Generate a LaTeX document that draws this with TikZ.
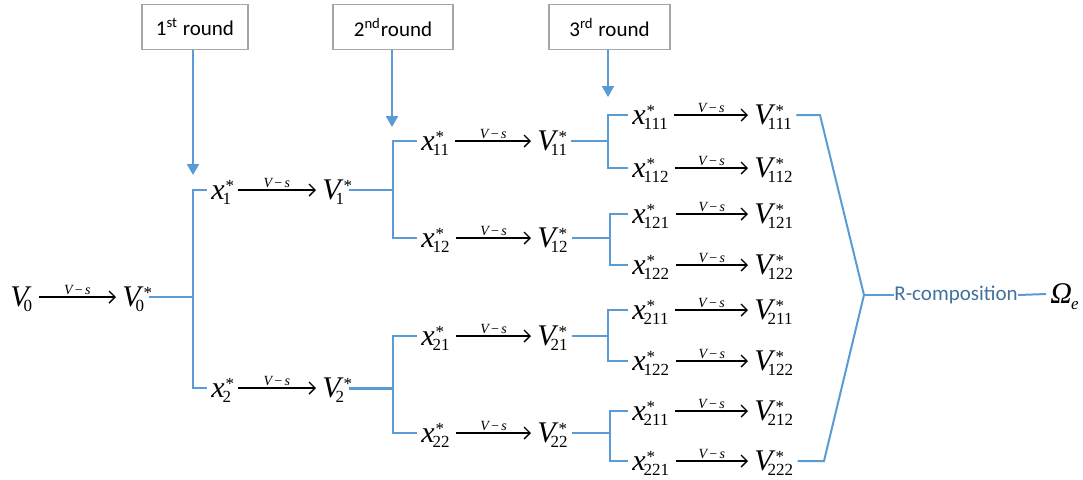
\documentclass[tikz,border=0pt]{standalone}
\usepackage{fontspec}
\newfontfamily\calibri{Carlito}
\newfontfamily\tms{Liberation Serif}
\usetikzlibrary{arrows.meta}
\definecolor{lblue}{RGB}{91,155,213}
\definecolor{tblue}{RGB}{65,113,156}
\definecolor{bgray}{RGB}{166,166,166}
\def\ry{4.5pt}
\newcommand\sy[4]{{\itshape #1}\rlap{\kern#4\raisebox{4pt}{\fontsize{8.5}{9}\selectfont *}}\kern#3\raisebox{-2.5pt}{\fontsize{8.5}{9}\selectfont #2}}
\newcommand\Vs[1]{\sy{V}{#1}{-2.5pt}{1.5pt}}
\newcommand\xs[1]{\sy{x}{#1}{-1pt}{0.5pt}}
\newcommand\vsl{{\itshape V}\,−\,{\itshape s}}
\tikzset{
  m/.style={font=\tms\fontsize{15}{17}\selectfont, inner xsep=2pt, inner ysep=0pt, anchor=base west},
  lab/.style={font=\tms\fontsize{7}{8}\selectfont, above=0.8pt, inner sep=0pt},
  arr/.style={line width=0.7pt, shorten <=1pt, shorten >=1pt, -{Straight Barb[length=3pt,width=6pt]}},
  br/.style={draw=lblue, line width=1pt},
  rbox/.style={draw=bgray, line width=0.7pt, font=\calibri\fontsize{10.5}{12}\selectfont, minimum height=22.5pt, inner sep=0pt},
  rar/.style={draw=lblue, line width=1pt, -{Triangle[length=5.5pt,width=6pt]}},
}
\begin{document}
\begin{tikzpicture}[x=0.5pt,y=-0.5pt]
\useasboundingbox (0,0) rectangle (1083,479);
% round boxes
\node[rbox, minimum width=53pt] (r1) at (195,27) {1\textsuperscript{st} round};
\node[rbox, minimum width=60pt] (r2) at (393,27) {2\textsuperscript{nd}round};
\node[rbox, minimum width=60.5pt] (r3) at (609.5,27) {3\textsuperscript{rd} round};
\coordinate (a1) at (193,175);
\coordinate (a2) at (392,127);
\coordinate (a3) at (608,97);
\draw[rar] (r1.south -| a1) -- (a1);
\draw[rar] (r2.south -| a2) -- (a2);
\draw[rar] (r3.south -| a3) -- (a3);
% level 0
\node[m] (V0) at (6,306) {{\itshape V}\kern-2.5pt\raisebox{-2.5pt}{\fontsize{8.5}{9}\selectfont 0}};
\node[m] (V0s) at (118,306) {\Vs{0}};
\draw[arr] ([yshift=\ry]V0.base east) -- node[lab]{\vsl} ([yshift=\ry]V0s.base west);
% level 1
\node[m] (x1) at (207,199) {\xs{1}};
\node[m] (V1) at (318,199) {\Vs{1}};
\node[m] (x2) at (207,397) {\xs{2}};
\node[m] (V2) at (318,397) {\Vs{2}};
\draw[arr] ([yshift=\ry]x1.base east) -- node[lab]{\vsl} ([yshift=\ry]V1.base west);
\draw[arr] ([yshift=\ry]x2.base east) -- node[lab]{\vsl} ([yshift=\ry]V2.base west);
% level 2
\node[m] (x11) at (417,150) {\xs{11}};
\node[m] (V11) at (533,150) {\Vs{11}};
\node[m] (x12) at (417,247) {\xs{12}};
\node[m] (V12) at (533,247) {\Vs{12}};
\node[m] (x21) at (417,345) {\xs{21}};
\node[m] (V21) at (533,345) {\Vs{21}};
\node[m] (x22) at (417,442) {\xs{22}};
\node[m] (V22) at (533,442) {\Vs{22}};
\foreach \a/\b in {x11/V11,x12/V12,x21/V21,x22/V22}
  \draw[arr] ([yshift=\ry]\a.base east) -- node[lab]{\vsl} ([yshift=\ry]\b.base west);
% level 3
\node[m] (x111) at (628,124) {\xs{111}};
\node[m] (V111) at (750,124) {\Vs{111}};
\node[m] (x112) at (628,177) {\xs{112}};
\node[m] (V112) at (750,177) {\Vs{112}};
\node[m] (x121) at (628,223) {\xs{121}};
\node[m] (V121) at (750,223) {\Vs{121}};
\node[m] (x122) at (628,274) {\xs{122}};
\node[m] (V122) at (750,274) {\Vs{122}};
\node[m] (x211) at (628,319) {\xs{211}};
\node[m] (V211) at (750,319) {\Vs{211}};
\node[m] (x122b) at (628,370) {\xs{122}};
\node[m] (V122b) at (750,370) {\Vs{122}};
\node[m] (x211b) at (628,420) {\xs{211}};
\node[m] (V212) at (750,420) {\Vs{212}};
\node[m] (x221) at (628,470) {\xs{221}};
\node[m] (V222) at (750,470) {\Vs{222}};
\foreach \a/\b in {x111/V111,x112/V112,x121/V121,x122/V122,x211/V211,x122b/V122b,x211b/V212,x221/V222}
  \draw[arr] ([yshift=\ry]\a.base east) -- node[lab]{\vsl} ([yshift=\ry]\b.base west);
% brackets
\coordinate (b0) at (193,297);
\draw[br] ([yshift=\ry]V0s.base east) -- (b0);
\draw[br] ([yshift=\ry]x1.base west) -| (b0) |- ([yshift=\ry]x2.base west);
\coordinate (b1) at (393,190);
\coordinate (b2) at (393,388);
\draw[br] ([yshift=\ry]V1.base east) -- (b1);
\draw[br, line width=1.5pt] ([yshift=\ry]V2.base east) -- (b2);
\draw[br] ([yshift=\ry]x11.base west) -| (b1) |- ([yshift=\ry]x12.base west);
\draw[br] ([yshift=\ry]x21.base west) -| (b2) |- ([yshift=\ry]x22.base west);
\coordinate (b11) at (608,141);
\coordinate (b12) at (610,238);
\coordinate (b21) at (608,336);
\coordinate (b22) at (610,433);
\draw[br] ([yshift=\ry]V11.base east) -- (b11);
\draw[br] ([yshift=\ry]V12.base east) -- (b12);
\draw[br] ([yshift=\ry]V21.base east) -- (b21);
\draw[br] ([yshift=\ry]V22.base east) -- (b22);
\draw[br] ([yshift=\ry]x111.base west) -| (b11) |- ([yshift=\ry]x112.base west);
\draw[br] ([yshift=\ry]x121.base west) -| (b12) |- ([yshift=\ry]x122.base west);
\draw[br] ([yshift=\ry]x211.base west) -| (b21) |- ([yshift=\ry]x122b.base west);
\draw[br] ([yshift=\ry]x211b.base west) -| (b22) |- ([yshift=\ry]x221.base west);
% R-composition
\coordinate (rt) at (820,115);
\coordinate (apex) at (864,295);
\coordinate (rb) at (824,461);
\draw[br] ([yshift=\ry]V111.base east) -- (rt) -- (apex) -- (rb) -- ([yshift=\ry]V222.base east);
\node[font=\calibri\fontsize{10.5}{12}\selectfont, text=tblue, inner sep=0pt, anchor=west] (rc) at (894,295) {R-composition};
\node[m] (om) at (1046,303) {{\itshape Ω}\kern-0.5pt\raisebox{-3pt}{\fontsize{8.5}{9}\selectfont\itshape e}};
\draw[br] (apex) -- (rc.west);
\draw[br] (rc.east) -- ([yshift=\ry]om.base west);
\end{tikzpicture}
\end{document}
